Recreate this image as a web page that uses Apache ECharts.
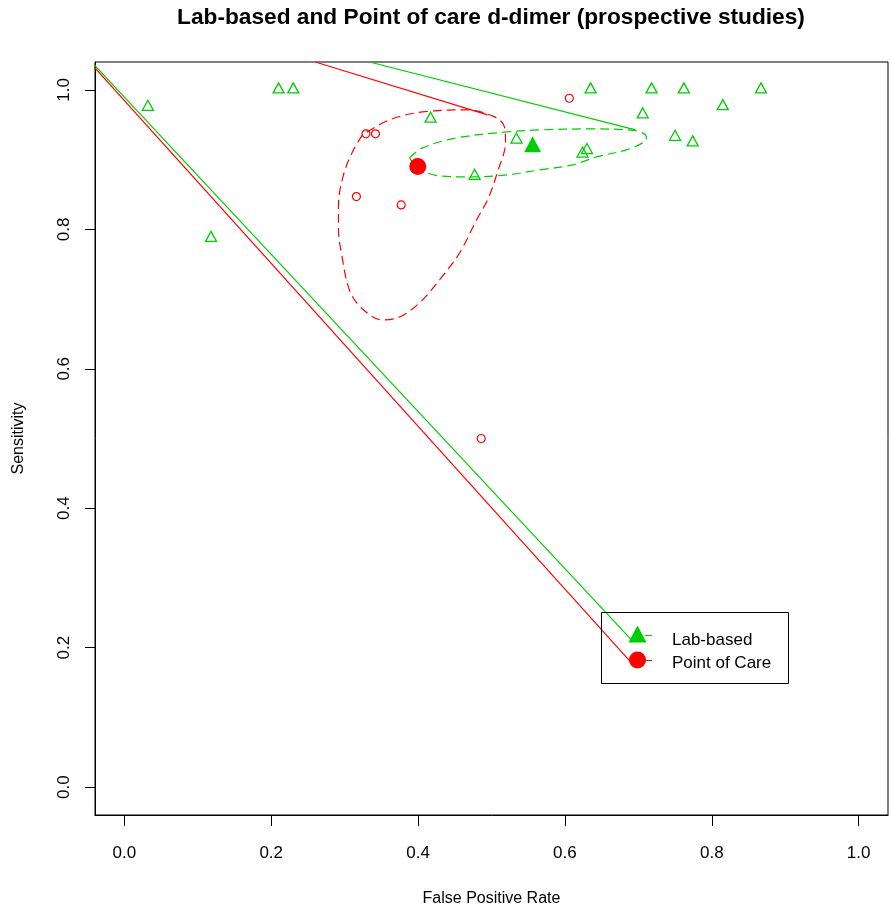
<!DOCTYPE html>
<html>
<head>
<meta charset="utf-8">
<script src="https://cdn.jsdelivr.net/npm/echarts@6/dist/echarts.min.js"></script>
<style>html,body{margin:0;padding:0;background:#fff}#c{width:891px;height:916px}</style>
</head>
<body>
<div id="c"></div>
<script>
// ---- data ----
const xTicks = [0, 0.2, 0.4, 0.6, 0.8, 1.0];
const yTicks = [0, 0.2, 0.4, 0.6, 0.8, 1.0];

// Lab-based studies (open triangles)
const labFpr  = [0.210, 0.230, 0.032, 0.118, 0.417, 0.477, 0.534, 0.635, 0.718, 0.762, 0.867, 0.815, 0.706, 0.750, 0.774, 0.630, 0.624];
const labSens = [1.000, 1.000, 0.975, 0.787, 0.958, 0.876, 0.928, 1.000, 1.000, 1.000, 1.000, 0.976, 0.964, 0.932, 0.924, 0.913, 0.908];

// Point of care studies (open circles)
const pocFpr  = [0.329, 0.342, 0.316, 0.377, 0.486, 0.606];
const pocSens = [0.937, 0.937, 0.847, 0.835, 0.500, 0.988];

// summary points
const labSummary = [0.556, 0.919];
const pocSummary = [0.3996, 0.890];

// SROC lines
const labLineAx = [0.334, 0.696];
const labLineAy = [1.040, 0.9426];
const labLineBx = [-0.041, 0.690];
const labLineBy = [1.036, 0.212];
const pocLineAx = [0.260, 0.4946];
const pocLineAy = [1.040, 0.9641];
const pocLineBx = [-0.041, 0.690];
const pocLineBy = [1.0326, 0.179];

// confidence regions
const labRegionX = [0.3883,0.4060,0.4523,0.5204,0.5654,0.6335,0.6880,0.7057,0.7112,0.7057,0.6839,0.6431,0.6104,0.5654,0.5204,0.4741,0.4292,0.4019,0.3883];
const labRegionY = [0.9024,0.9168,0.9311,0.9397,0.9426,0.9440,0.9426,0.9383,0.9311,0.9240,0.9139,0.9039,0.8924,0.8852,0.8780,0.8752,0.8766,0.8867,0.9024];
const pocRegionX = [0.3243,0.3106,0.2984,0.2916,0.2916,0.2956,0.3065,0.3229,0.3515,0.3747,0.4019,0.4292,0.4564,0.4796,0.4946,0.5082,0.5191,0.5177,0.5041,0.4659,0.4060,0.3610,0.3243];
const pocRegionY = [0.9354,0.9110,0.8780,0.8350,0.7991,0.7661,0.7131,0.6872,0.6700,0.6743,0.6944,0.7274,0.7661,0.8135,0.8422,0.8824,0.9254,0.9469,0.9613,0.9713,0.9684,0.9570,0.9354];

const titleText = 'Lab-based and Point of care d-dimer (prospective studies)';
const legendNames = ['Lab-based', 'Point of Care'];

// ---- chart ----
const GREEN = '#00CD00', RED = '#FF0000';
const FONT = "'Liberation Sans', Arial, Helvetica, sans-serif";
const zip = (a, b) => a.map((v, i) => [v, b[i]]);

const chart = echarts.init(document.getElementById('c'), null, {renderer: 'canvas'});

function lineSeries(xs, ys, color, dashed, z) {
  return {
    type: 'line', data: zip(xs, ys), showSymbol: false, symbol: 'none',
    smooth: dashed ? 0.35 : false, clip: true, z: z || 2,
    lineStyle: {color: color, width: 1.2, type: dashed ? [9, 5] : 'solid'},
    silent: true
  };
}

const option = {
  animation: false,
  backgroundColor: '#fff',
  grid: {left: 95, right: 3, top: 62, bottom: 101, show: true, borderColor: '#000', borderWidth: 1, backgroundColor: 'transparent'},
  xAxis: {
    type: 'value', min: -0.04, max: 1.04,
    splitLine: {show: false},
    axisLine: {show: true, onZero: false, lineStyle: {color: '#000', width: 1}},
    axisTick: {show: true, inside: false, length: 11, customValues: xTicks, lineStyle: {color: '#000'}},
    axisLabel: {customValues: xTicks, formatter: v => v.toFixed(1), fontSize: 17, color: '#000', margin: 30, fontFamily: FONT},
    name: 'False Positive Rate', nameLocation: 'middle', nameGap: 76,
    nameTextStyle: {fontSize: 16, color: '#000', fontFamily: FONT}
  },
  yAxis: {
    type: 'value', min: -0.04, max: 1.04,
    splitLine: {show: false},
    axisLine: {show: true, onZero: false, lineStyle: {color: '#000', width: 1}},
    axisTick: {show: true, inside: false, length: 10, customValues: yTicks, lineStyle: {color: '#000'}},
    axisLabel: {customValues: yTicks, formatter: v => v.toFixed(1), fontSize: 17, color: '#000', margin: 22, rotate: 90, fontFamily: FONT},
    name: 'Sensitivity', nameLocation: 'middle', nameGap: 68, nameRotate: 90,
    nameTextStyle: {fontSize: 16, color: '#000', fontFamily: FONT}
  },
  series: [
    lineSeries(labLineAx, labLineAy, GREEN, false),
    lineSeries(labLineBx, labLineBy, GREEN, false),
    lineSeries(pocLineAx, pocLineAy, RED, false),
    lineSeries(pocLineBx, pocLineBy, RED, false),
    lineSeries(labRegionX, labRegionY, GREEN, true),
    lineSeries(pocRegionX, pocRegionY, RED, true),
    {
      name: legendNames[0], type: 'scatter', data: zip(labFpr, labSens),
      symbol: 'triangle', symbolSize: [11, 10], symbolOffset: [0, -2],
      itemStyle: {color: 'rgba(0,0,0,0)', borderColor: GREEN, borderWidth: 1.3, opacity: 1}, z: 4
    },
    {
      name: legendNames[1], type: 'scatter', data: zip(pocFpr, pocSens),
      symbol: 'circle', symbolSize: 8,
      itemStyle: {color: 'rgba(0,0,0,0)', borderColor: RED, borderWidth: 1.2, opacity: 1}, z: 4
    },
    {
      type: 'scatter', data: [labSummary], symbol: 'triangle', symbolSize: [17, 16], symbolOffset: [0, -2],
      itemStyle: {color: GREEN, opacity: 1}, z: 5
    },
    {
      type: 'scatter', data: [pocSummary], symbol: 'circle', symbolSize: 17,
      itemStyle: {color: RED, opacity: 1}, z: 5
    }
  ],
  graphic: [
    {type: 'text', x: 491, y: 18, z: 10,
     style: {text: titleText, font: "bold 22.7px " + FONT, fill: '#000', textAlign: 'center', textVerticalAlign: 'middle'}},
    {type: 'rect', shape: {x: 601.5, y: 612.5, width: 187, height: 71}, z: 10,
     style: {fill: 'none', stroke: '#000', lineWidth: 1}},
    {type: 'polygon', shape: {points: [[637.5, 625.5], [646.5, 642.5], [628.5, 642.5]]}, z: 11, style: {fill: GREEN}},
    {type: 'line', shape: {x1: 645, y1: 635.5, x2: 652, y2: 635.5}, z: 11, style: {stroke: GREEN, lineWidth: 1}},
    {type: 'circle', shape: {cx: 637.5, cy: 660, r: 8.5}, z: 11, style: {fill: RED}},
    {type: 'line', shape: {x1: 645, y1: 660.5, x2: 652, y2: 660.5}, z: 11, style: {stroke: RED, lineWidth: 1}},
    {type: 'text', x: 672, y: 640, z: 11, style: {text: legendNames[0], font: "17px " + FONT, fill: '#000', textVerticalAlign: 'middle'}},
    {type: 'text', x: 672, y: 663, z: 11, style: {text: legendNames[1], font: "17px " + FONT, fill: '#000', textVerticalAlign: 'middle'}}
  ]
};
chart.setOption(option);
</script>
</body>
</html>
